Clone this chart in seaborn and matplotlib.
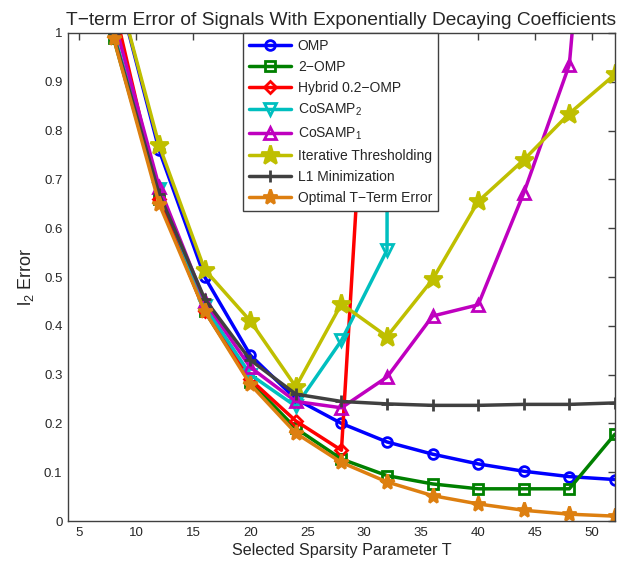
"""
T-term error of signals with exponentially decaying coefficients
"""

import numpy as np
import matplotlib
matplotlib.use('Agg')
import matplotlib.pyplot as plt
import seaborn as sns

# Sparsity parameter T
T = [8, 12, 16, 20, 24, 28, 32, 36, 40, 44, 48, 52]

# l2 error per method
omp = [1.12, 0.76, 0.50, 0.34, 0.25, 0.20, 0.162, 0.137, 0.117, 0.102, 0.091, 0.085]
omp2 = [0.99, 0.66, 0.43, 0.285, 0.19, 0.127, 0.093, 0.076, 0.066, 0.066, 0.066, 0.178]
hybrid_T = [8, 12, 16, 20, 24, 28, 32]
hybrid = [1.06, 0.66, 0.43, 0.29, 0.205, 0.145, 1.70]
cosamp2_T = [8, 12, 16, 20, 24, 28, 32, 36]
cosamp2 = [1.00, 0.68, 0.44, 0.30, 0.235, 0.37, 0.555, 60.0]
cosamp1 = [1.03, 0.685, 0.45, 0.315, 0.245, 0.232, 0.295, 0.42, 0.443, 0.672, 0.935, 2.0]
iht = [1.12, 0.77, 0.515, 0.41, 0.275, 0.445, 0.378, 0.495, 0.655, 0.74, 0.835, 0.915]
l1 = [0.995, 0.67, 0.455, 0.33, 0.26, 0.245, 0.24, 0.237, 0.237, 0.239, 0.239, 0.242]
optimal = [0.99, 0.65, 0.43, 0.28, 0.18, 0.12, 0.08, 0.052, 0.035, 0.022, 0.014, 0.01]

labels = ['OMP', '2\u2212OMP', 'Hybrid 0.2\u2212OMP', 'CoSAMP$_2$', 'CoSAMP$_1$',
          'Iterative Thresholding', 'L1 Minimization', 'Optimal T\u2212Term Error']

series = [
    (T, omp, '#0000FF', 'o', 7, 'none'),
    (T, omp2, '#008000', 's', 7, 'none'),
    (hybrid_T, hybrid, '#FF0000', 'D', 6, 'none'),
    (cosamp2_T, cosamp2, '#00BFBF', 'v', 8, 'none'),
    (T, cosamp1, '#BF00BF', '^', 8, 'none'),
    (T, iht, '#BFBF00', '*', 14, 'fill'),
    (T, l1, '#404040', '+', 9, 'fill'),
    (T, optimal, '#DD7F10', '*', 11, 'fill'),
]

sns.set_style('white')
plt.rcParams['font.family'] = ['Liberation Sans', 'DejaVu Sans']
plt.rcParams['mathtext.fontset'] = 'custom'
plt.rcParams['mathtext.rm'] = 'Liberation Sans'
plt.rcParams['mathtext.it'] = 'Liberation Sans'

fig = plt.figure(figsize=(6.18, 5.64), dpi=100)
ax = fig.add_axes([0.110, 0.0762, 0.885, 0.8653])

for (x, y, color, marker, ms, face), label in zip(series, labels):
    mfc = color if face == 'fill' else 'none'
    sns.lineplot(x=x, y=y, ax=ax, color=color, marker=marker, markersize=ms,
                 markerfacecolor=mfc, markeredgecolor=color, markeredgewidth=2,
                 linewidth=2.5, label=label, sort=False)

ax.set_xlim(4, 52)
ax.set_ylim(0, 1)
ax.set_xticks(np.arange(5, 51, 5))
ax.set_yticks(np.arange(0, 1.01, 0.1))
ax.set_yticklabels(['0', '0.1', '0.2', '0.3', '0.4', '0.5', '0.6', '0.7', '0.8', '0.9', '1'])
ax.tick_params(direction='in', top=True, right=True, length=5, width=1,
               labelsize=9.5, color='#404040', pad=4)
for sp in ax.spines.values():
    sp.set_color('#404040')
    sp.set_linewidth(1)

ax.set_xlabel('Selected Sparsity Parameter T', fontsize=11.6, labelpad=3)
ax.set_ylabel('l$_2$ Error', fontsize=13, labelpad=6)
ax.set_title('T\u2212term Error of Signals With Exponentially Decaying Coefficients',
             fontsize=13.8, pad=6)

leg = ax.legend(loc='upper left', bbox_to_anchor=(0.32, 1.0), borderaxespad=0,
                fontsize=10, handlelength=3.0, labelspacing=0.5, fancybox=False,
                framealpha=1, edgecolor='#404040', borderpad=0.45, handletextpad=0.5)
leg.get_frame().set_linewidth(1)

plt.savefig('out.png', dpi=100)
plt.close()
